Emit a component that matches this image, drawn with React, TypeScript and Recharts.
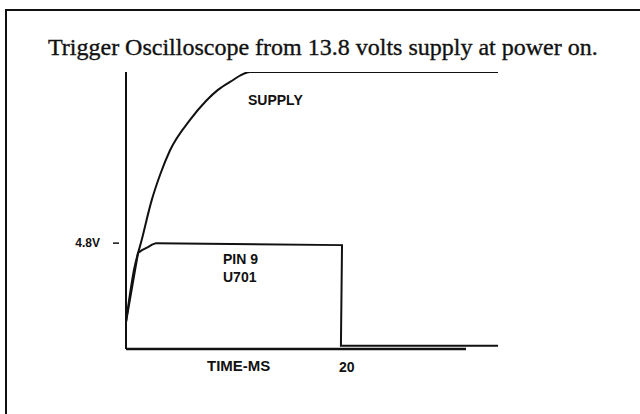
import React from 'react';
import { LineChart, Line, XAxis, YAxis, ReferenceLine } from 'recharts';

// time in ms, level in volts
const supplyTime = [0, 0.72, 1.42, 2.33, 3.08, 3.99, 5.8, 7.31, 8.33, 9.42, 11.23, 33.7];
const supplyVolts = [1.22, 3.58, 4.94, 6.75, 7.89, 9.01, 10.39, 11.28, 11.75, 12.11, 12.56, 12.56];
const pinTime = [0, 1.09, 1.45, 1.99, 2.36, 2.72, 19.57, 19.47, 33.7];
const pinVolts = [1.22, 4.35, 4.48, 4.62, 4.73, 4.8, 4.71, 0.15, 0.15];
const timeTicks = [20];
const voltTicks = [4.8];
const timeAxisEnd = 30.8;
const timeMax = 33.7;
const voltMax = 12.56;

const supplyData = supplyTime.map((t, i) => ({ t, v: supplyVolts[i] }));
const pinData = pinTime.map((t, i) => ({ t, v: pinVolts[i] }));

const INK = '#111';
const SANS = '"Liberation Sans", Arial, sans-serif';

const VoltTick = (props: any) => {
  const { y, payload } = props;
  return (
    <g>
      <line x1={113} x2={119} y1={y} y2={y} stroke={INK} strokeWidth={1.5} />
      <text x={100} y={y + 4} textAnchor="end" fontFamily={SANS} fontSize={12} fontWeight="bold" fill={INK}>
        {payload.value}V
      </text>
    </g>
  );
};

const TimeTick = (props: any) => {
  const { x, payload } = props;
  return (
    <text x={x} y={372} textAnchor="middle" fontFamily={SANS} fontSize={14} fontWeight="bold" fill={INK}>
      {payload.value}
    </text>
  );
};

export default function App() {
  return (
    <div style={{ position: 'absolute', left: 0, top: 0, width: 640, height: 414, background: '#fff' }}>
      <LineChart width={640} height={414} margin={{ top: 72, right: 142, bottom: 35, left: 66 }}>
        <XAxis
          type="number"
          dataKey="t"
          domain={[0, timeMax]}
          ticks={timeTicks}
          axisLine={false}
          tickLine={false}
          tick={<TimeTick />}
          allowDataOverflow
        />
        <YAxis
          type="number"
          dataKey="v"
          domain={[0, voltMax]}
          ticks={voltTicks}
          axisLine={{ stroke: INK, strokeWidth: 2 }}
          tickLine={false}
          tick={<VoltTick />}
          allowDataOverflow
        />
        <ReferenceLine
          segment={[{ x: 0, y: 0 }, { x: timeAxisEnd, y: 0 }]}
          stroke={INK}
          strokeWidth={2.5}
          ifOverflow="visible"
        />
        <Line
          data={supplyData}
          dataKey="v"
          type="monotone"
          stroke={INK}
          strokeWidth={2}
          dot={false}
          isAnimationActive={false}
        />
        <Line
          data={pinData}
          dataKey="v"
          type="linear"
          stroke={INK}
          strokeWidth={2}
          dot={false}
          isAnimationActive={false}
        />
      </LineChart>
      <svg width={640} height={414} style={{ position: 'absolute', left: 0, top: 0, pointerEvents: 'none' }}>
        <line x1={5} x2={640} y1={10} y2={10} stroke={INK} strokeWidth={2} />
        <line x1={6} x2={6} y1={9} y2={414} stroke={INK} strokeWidth={2} />
        <text
          x={48}
          y={55}
          fontFamily='"Liberation Serif", "Times New Roman", serif'
          fontSize={24}
          fill={INK}
          stroke={INK}
          strokeWidth={0.35}
        >
          Trigger Oscilloscope from 13.8 volts supply at power on.
        </text>
        <text x={248} y={105} fontFamily={SANS} fontSize={14} fontWeight="bold" fill={INK}>SUPPLY</text>
        <text x={223} y={264} fontFamily={SANS} fontSize={14} fontWeight="bold" fill={INK}>PIN 9</text>
        <text x={223} y={282} fontFamily={SANS} fontSize={14} fontWeight="bold" fill={INK}>U701</text>
        <text x={207} y={371} fontFamily={SANS} fontSize={15} fontWeight="bold" fill={INK}>TIME-MS</text>
      </svg>
    </div>
  );
}
